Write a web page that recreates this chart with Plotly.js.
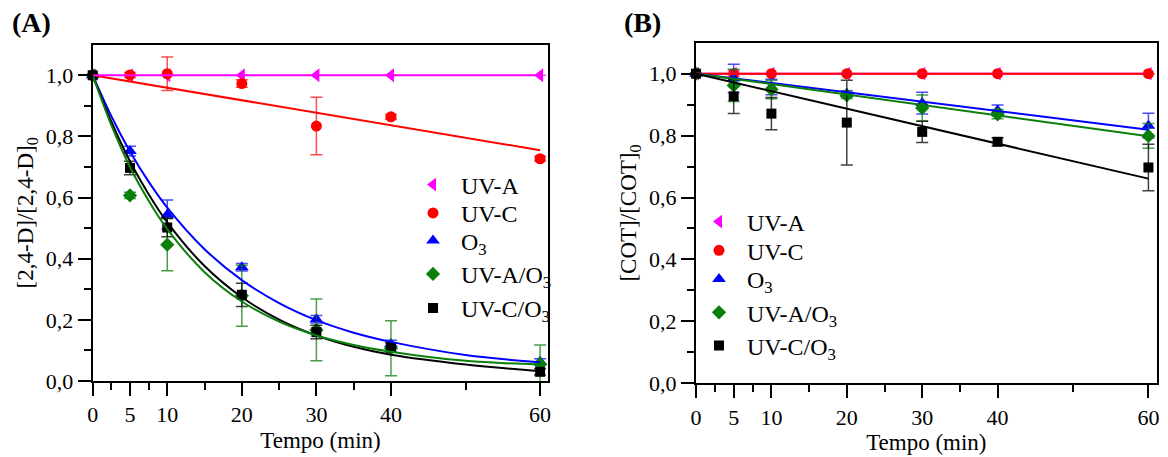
<!DOCTYPE html>
<html>
<head>
<meta charset="utf-8">
<script src="https://cdn.plot.ly/plotly-3.0.1.min.js"></script>
<style>html,body{margin:0;padding:0;background:#fff;}#chart{width:1168px;height:457px;}</style>
</head>
<body>
<div id="chart"></div>
<script>
// ---------- data ----------
const times = [0, 5, 10, 20, 30, 40, 60];
const seriesNames = ['UV-A', 'UV-C', 'O<sub>3</sub>', 'UV-A/O<sub>3</sub>', 'UV-C/O<sub>3</sub>'];

// Panel A: [2,4-D]/[2,4-D]0
const A_UVA = [1.0, 1.0, 1.0, 1.0, 1.0, 1.0, 1.0];
const A_UVA_err = [0, 0, 0, 0, 0, 0, 0];
const A_UVC = [1.0, 1.001, 1.005, 0.973, 0.834, 0.864, 0.727];
const A_UVC_err = [0, 0.008, 0.055, 0.012, 0.094, 0.008, 0.008];
const A_O3 = [1.0, 0.752, 0.544, 0.372, 0.202, 0.121, 0.063];
const A_O3_err = [0, 0.016, 0.048, 0.012, 0.012, 0.012, 0.01];
const A_UVAO3 = [1.0, 0.607, 0.446, 0.279, 0.167, 0.107, 0.055];
const A_UVAO3_err = [0, 0.01, 0.085, 0.1, 0.101, 0.09, 0.063];
const A_UVCO3 = [1.0, 0.697, 0.502, 0.282, 0.160, 0.110, 0.030];
const A_UVCO3_err = [0, 0.022, 0.03, 0.038, 0.022, 0.015, 0.01];

// Panel A fitted curves
const fitT = [0, 2.5, 5, 7.5, 10, 15, 20, 25, 30, 35, 40, 50, 60];
const fitA_O3 = [1.0, 0.866, 0.751, 0.652, 0.567, 0.431, 0.330, 0.255, 0.199, 0.158, 0.128, 0.085, 0.061];
const fitA_UVCO3 = [1.0, 0.848, 0.719, 0.611, 0.519, 0.376, 0.274, 0.201, 0.149, 0.112, 0.086, 0.054, 0.032];
const fitA_UVAO3 = [1.0, 0.837, 0.700, 0.590, 0.497, 0.356, 0.260, 0.194, 0.149, 0.118, 0.096, 0.066, 0.054];
const lineT = [0, 60];
const fitA_UVA = [1.0, 1.0];
const fitA_UVC = [1.0, 0.755];

// Panel B: [COT]/[COT]0
const B_UVA = [1.0, 1.0, 1.0, 1.0, 1.0, 1.0, 1.0];
const B_UVA_err = [0, 0.01, 0, 0, 0, 0, 0];
const B_UVC = [1.0, 1.0, 1.0, 1.0, 1.0, 1.0, 1.0];
const B_UVC_err = [0, 0, 0, 0, 0, 0, 0];
const B_O3 = [1.0, 0.984, 0.957, 0.935, 0.905, 0.881, 0.832];
const B_O3_err = [0, 0.046, 0.025, 0.01, 0.035, 0.018, 0.04];
const B_UVAO3 = [1.0, 0.962, 0.949, 0.930, 0.889, 0.869, 0.799];
const B_UVAO3_err = [0, 0.052, 0.03, 0.01, 0.042, 0.015, 0.04];
const B_UVCO3 = [1.0, 0.927, 0.871, 0.842, 0.812, 0.780, 0.697];
const B_UVCO3_err = [0, 0.056, 0.052, 0.137, 0.034, 0.013, 0.075];
const fitB_UVA = [1.0, 1.0];
const fitB_UVC = [1.0, 1.0];
const fitB_O3 = [1.0, 0.819];
const fitB_UVAO3 = [1.0, 0.798];
const fitB_UVCO3 = [1.0, 0.661];

// ticks
const xTickVals = [0, 5, 10, 20, 30, 40, 60];
const xTickText = ['0', '5', '10', '20', '30', '40', '60'];
const xMinorVals = [2.5, 7.5, 15, 25, 35, 50];
const yTickVals = [0, 0.2, 0.4, 0.6, 0.8, 1.0];
const yTickText = ['0,0', '0,2', '0,4', '0,6', '0,8', '1,0'];
const yMinorVals = [0.1, 0.3, 0.5, 0.7, 0.9];

// ---------- styles ----------
const colors = ['#ff00ff', '#ff0000', '#0000ff', '#0a800a', '#000000'];
const errColors = ['rgba(255,0,255,0.7)', 'rgba(255,0,0,0.7)', 'rgba(0,0,255,0.7)', 'rgba(10,128,10,0.75)', 'rgba(0,0,0,0.75)'];
const symbols = ['triangle-left', 'circle', 'triangle-up', 'diamond', 'square'];
const sizes = [12, 11, 12, 11, 10];

// legend entry placement (pixel centres of the legend symbols)
const legRowsA = [185, 213.3, 241, 274.3, 308.3];
const legRowsB = [222, 250.7, 279.3, 312.7, 346];
const legXA = 405, legXB = 691, legTopOffset = 22.5;

function legName(k) { return k === 0 ? 'legend' : 'legend' + (k + 1); }

function markerTrace(i, y, err, xa, ya, leg) {
  return {
    x: times, y: y, type: 'scatter', mode: 'markers',
    name: seriesNames[i], xaxis: xa, yaxis: ya, legend: leg,
    marker: {symbol: symbols[i], size: sizes[i], color: colors[i]},
    error_y: {type: 'data', array: err, visible: true, color: errColors[i], thickness: 1.5, width: 6},
    cliponaxis: false
  };
}
function lineTrace(i, x, y, xa, ya, shape) {
  return {
    x: x, y: y, type: 'scatter', mode: 'lines', showlegend: false,
    xaxis: xa, yaxis: ya,
    line: {color: colors[i], width: 2, shape: shape || 'linear', smoothing: 1}
  };
}

const data = [
  markerTrace(0, A_UVA, A_UVA_err, 'x', 'y', legName(0)),
  markerTrace(1, A_UVC, A_UVC_err, 'x', 'y', legName(1)),
  markerTrace(2, A_O3, A_O3_err, 'x', 'y', legName(2)),
  markerTrace(3, A_UVAO3, A_UVAO3_err, 'x', 'y', legName(3)),
  markerTrace(4, A_UVCO3, A_UVCO3_err, 'x', 'y', legName(4)),
  lineTrace(1, lineT, fitA_UVC, 'x', 'y'),
  lineTrace(0, lineT, fitA_UVA, 'x', 'y'),
  lineTrace(2, fitT, fitA_O3, 'x', 'y', 'spline'),
  lineTrace(4, fitT, fitA_UVCO3, 'x', 'y', 'spline'),
  lineTrace(3, fitT, fitA_UVAO3, 'x', 'y', 'spline'),

  markerTrace(0, B_UVA, B_UVA_err, 'x2', 'y2', legName(5)),
  markerTrace(1, B_UVC, B_UVC_err, 'x2', 'y2', legName(6)),
  markerTrace(2, B_O3, B_O3_err, 'x2', 'y2', legName(7)),
  markerTrace(3, B_UVAO3, B_UVAO3_err, 'x2', 'y2', legName(8)),
  markerTrace(4, B_UVCO3, B_UVCO3_err, 'x2', 'y2', legName(9)),
  lineTrace(0, lineT, fitB_UVA, 'x2', 'y2'),
  lineTrace(1, lineT, fitB_UVC, 'x2', 'y2'),
  lineTrace(2, lineT, fitB_O3, 'x2', 'y2'),
  lineTrace(3, lineT, fitB_UVAO3, 'x2', 'y2'),
  lineTrace(4, lineT, fitB_UVCO3, 'x2', 'y2')
];

const W = 1168, H = 457;
function px(x) { return x / W; }
function py(y) { return (H - y) / H; }

const FONT = '"Liberation Serif", "Times New Roman", Times, serif';

function xAxis(dom, anchor) {
  return {
    domain: dom, anchor: anchor, range: [0, 61.1],
    tickmode: 'array', tickvals: xTickVals, ticktext: xTickText,
    ticks: 'outside', ticklen: 13, tickwidth: 2, tickcolor: '#000',
    minor: {tickmode: 'array', tickvals: xMinorVals, ticks: 'outside', ticklen: 7, tickwidth: 2, tickcolor: '#000', showgrid: false},
    showline: true, linewidth: 2, linecolor: '#000', mirror: true,
    showgrid: false, zeroline: false,
    tickfont: {family: FONT, size: 22, color: '#000'},
    title: {text: 'Tempo (min)', font: {family: FONT, size: 23, color: '#000'}, standoff: 5}
  };
}
function yAxis(dom, anchor, title) {
  return {
    domain: dom, anchor: anchor, range: [0, 1.1],
    tickmode: 'array', tickvals: yTickVals, ticktext: yTickText,
    ticks: 'outside', ticklen: 13, tickwidth: 2, tickcolor: '#000',
    minor: {tickmode: 'array', tickvals: yMinorVals, ticks: 'outside', ticklen: 7, tickwidth: 2, tickcolor: '#000', showgrid: false},
    showline: true, linewidth: 2, linecolor: '#000', mirror: true,
    showgrid: false, zeroline: false,
    tickfont: {family: FONT, size: 22, color: '#000'},
    title: {text: title, font: {family: FONT, size: 23, color: '#000'}, standoff: 6}
  };
}

const layout = {
  width: W, height: H,
  margin: {l: 0, r: 0, t: 0, b: 0},
  paper_bgcolor: '#fff', plot_bgcolor: '#fff',
  font: {family: FONT, size: 22, color: '#000'},
  showlegend: true,
  xaxis: xAxis([px(92.7), px(548.3)], 'y'),
  yaxis: yAxis([py(381), py(44.7)], 'x', '[2,4-D]/[2,4-D]<sub>0</sub>'),
  xaxis2: xAxis([px(696), px(1156.7)], 'y2'),
  yaxis2: yAxis([py(383.3), py(42.7)], 'x2', '[COT]/[COT]<sub>0</sub>'),
  annotations: [
    {text: '<b>(A)</b>', xref: 'paper', yref: 'paper', x: px(31), y: py(22), xanchor: 'center', yanchor: 'middle', showarrow: false, font: {family: FONT, size: 28, color: '#000'}},
    {text: '<b>(B)</b>', xref: 'paper', yref: 'paper', x: px(642), y: py(22), xanchor: 'center', yanchor: 'middle', showarrow: false, font: {family: FONT, size: 28, color: '#000'}}
  ]
};

for (let k = 0; k < 10; k++) {
  const rowY = k < 5 ? legRowsA[k] : legRowsB[k - 5];
  const lx = k < 5 ? legXA : legXB;
  layout[legName(k)] = {
    x: px(lx), y: py(rowY - legTopOffset), xanchor: 'left', yanchor: 'top',
    bgcolor: 'rgba(0,0,0,0)', borderwidth: 0,
    font: {family: FONT, size: 24, color: '#000'}, itemwidth: 46
  };
}

Plotly.newPlot('chart', data, layout, {displayModeBar: false, staticPlot: true});
</script>
</body>
</html>
